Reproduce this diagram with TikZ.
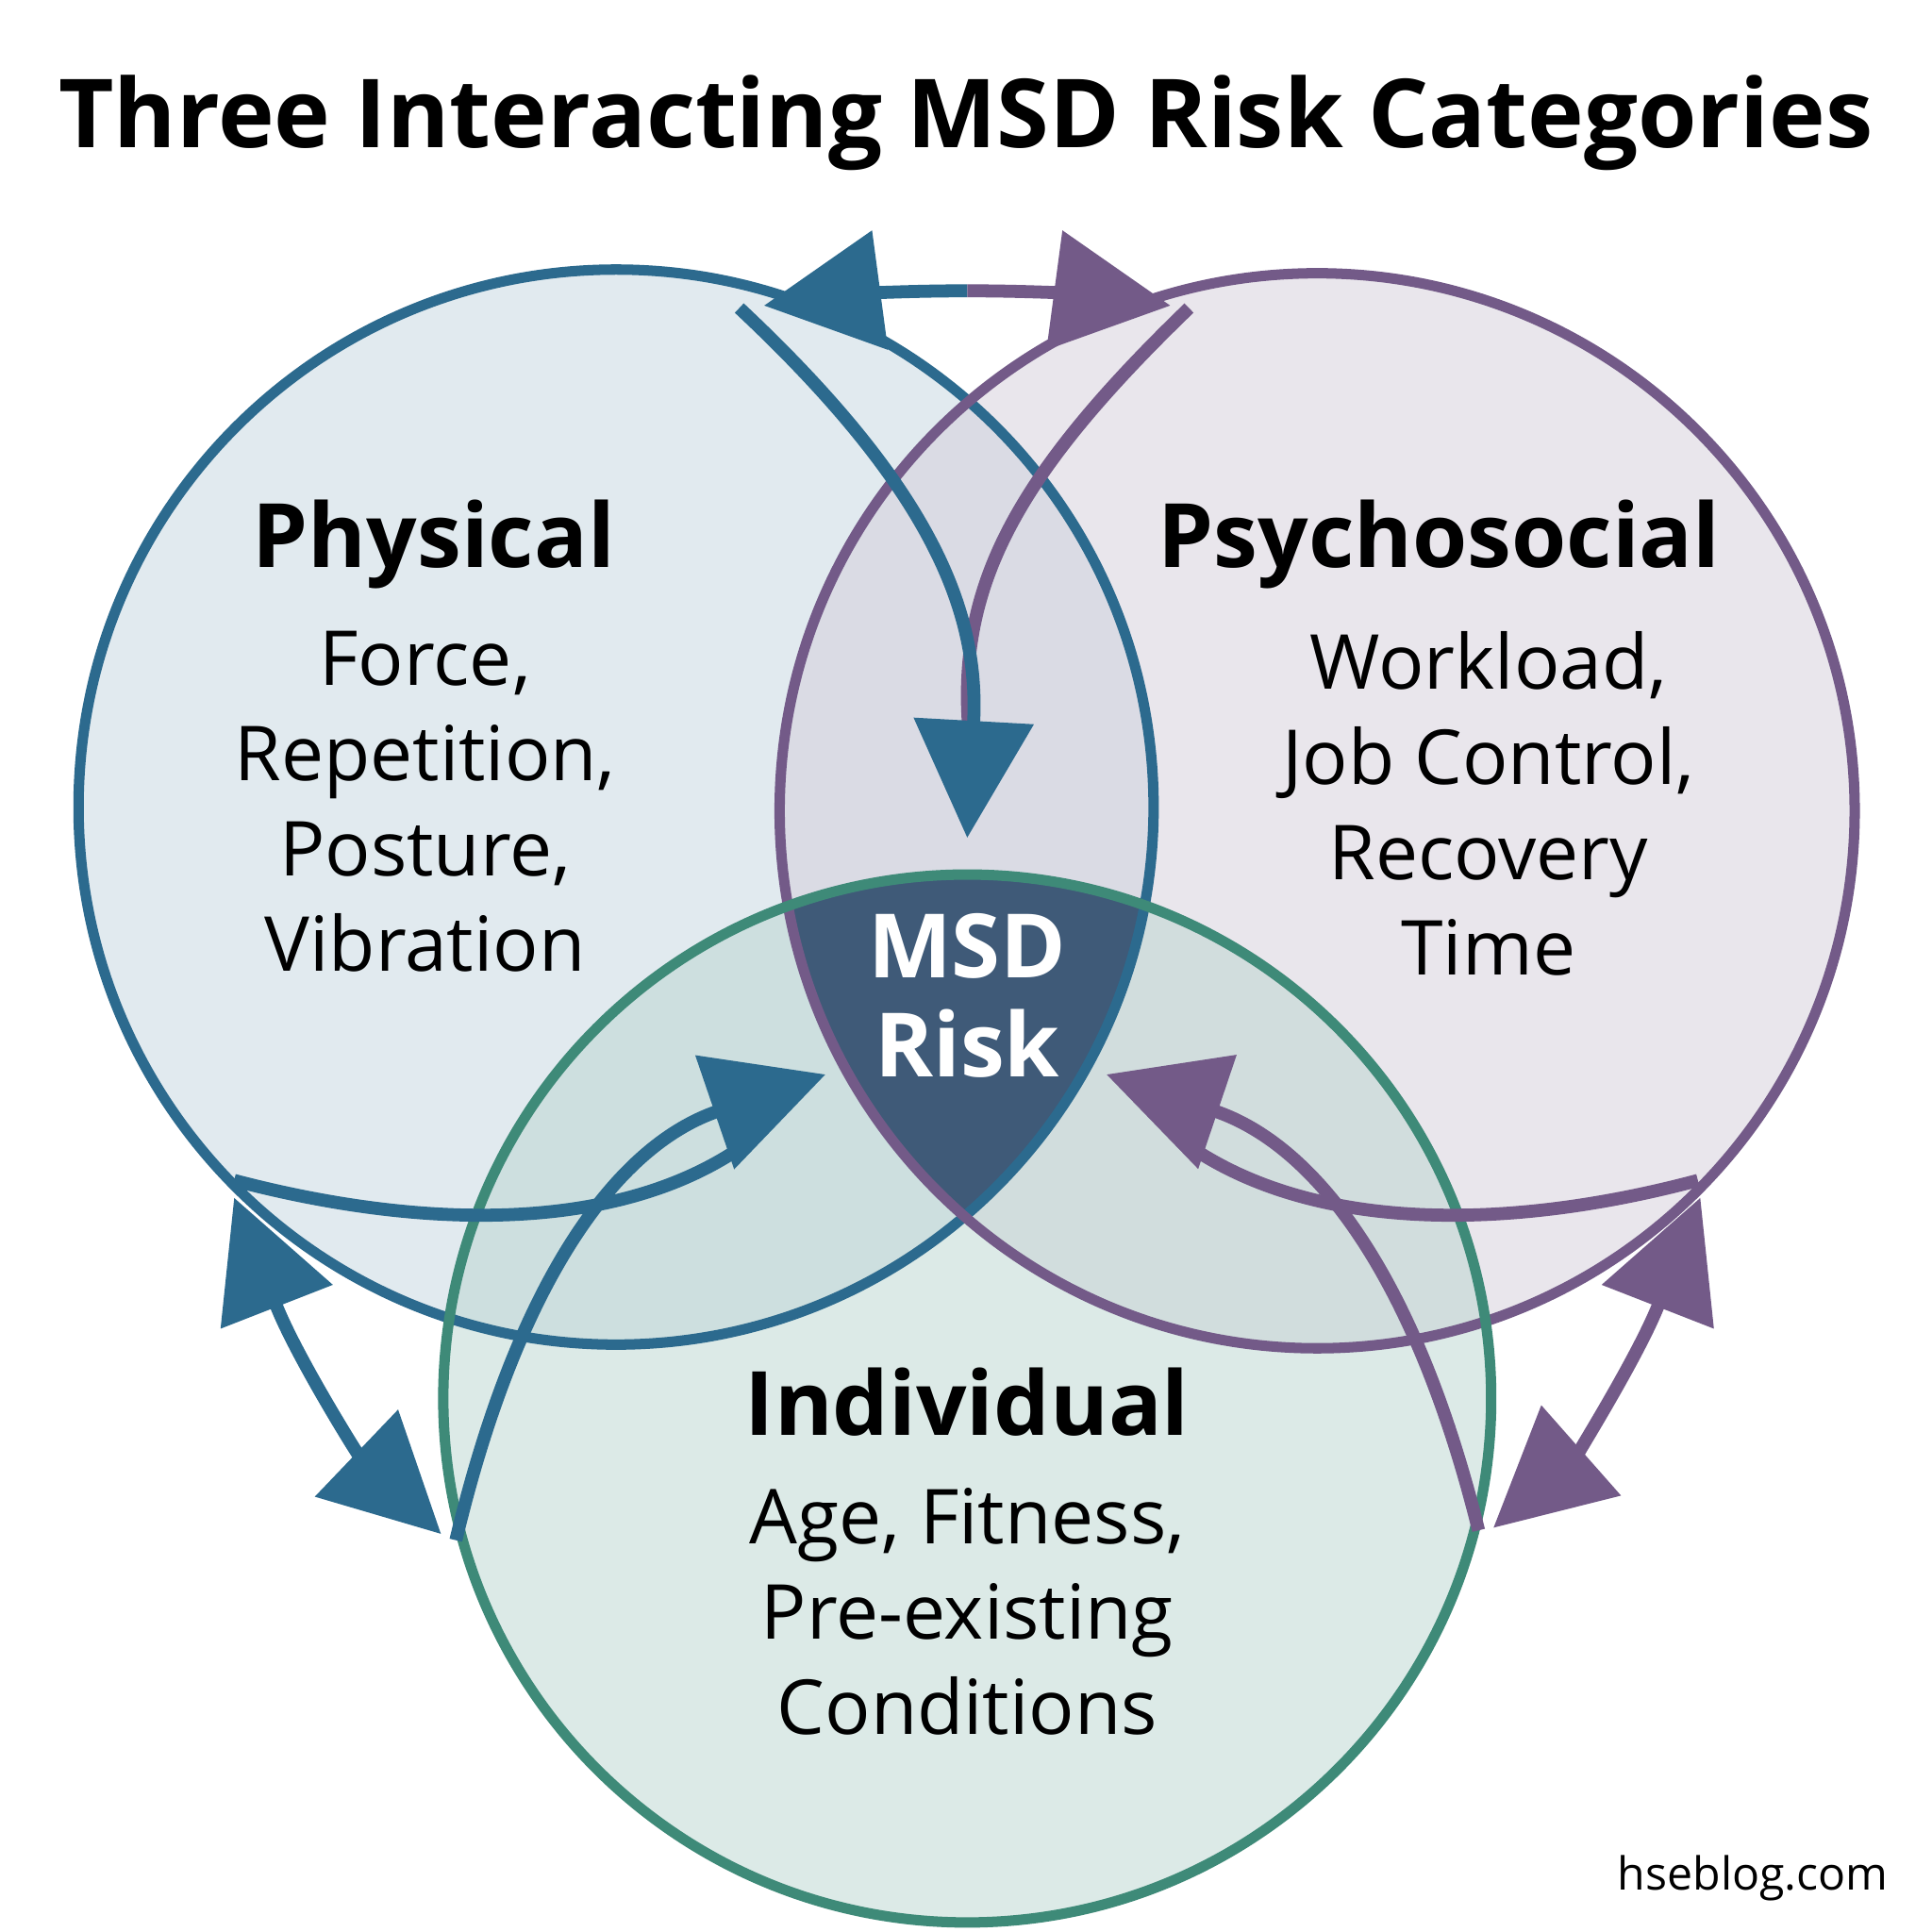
\documentclass[tikz,border=0pt]{standalone}
\usepackage{fontspec}
\setmainfont{Open Sans}
\usetikzlibrary{arrows.meta}
\definecolor{physblue}{HTML}{2C6A8E}
\definecolor{psypurple}{HTML}{735A88}
\definecolor{indgreen}{HTML}{3E8A78}
\definecolor{centerdark}{HTML}{3F5A78}
\tikzset{
  ring/.style={line width=2.4pt},
  flow/.style={line width=3pt, -{Triangle[length=0.95cm,width=0.95cm]}},
  twoway/.style={line width=3pt, {Triangle[length=0.95cm,width=0.95cm]}-{Triangle[length=0.95cm,width=0.95cm]}},
  feed/.style={line width=3pt},
  head/.style={font=\bfseries\fontsize{20.5}{23}\selectfont, align=center},
  body/.style={font=\fontsize{17.5}{22}\selectfont, align=center}
}
\begin{document}
\begin{tikzpicture}[x=0.01cm, y=-0.01cm]
    \useasboundingbox[fill=white] (0,0) rectangle (1568,1568);
    % circles
    \def\rad{4.36cm}
    \fill[physblue!25, opacity=0.55] (500,655) circle[radius=\rad];
    \fill[psypurple!30, opacity=0.5] (1069,658) circle[radius=\rad];
    \fill[indgreen!35, opacity=0.5] (785,1135) circle[radius=4.25cm];
    \begin{scope}
      \clip (500,655) circle[radius=\rad];
      \clip (1069,658) circle[radius=\rad];
      \fill[centerdark] (785,1135) circle[radius=4.25cm];
    \end{scope}
    \draw[ring, physblue] (500,655) circle[radius=\rad];
    \draw[ring, psypurple] (1069,658) circle[radius=\rad];
    \draw[ring, indgreen] (785,1135) circle[radius=4.25cm];
    % flows into centre
    \draw[feed, psypurple] (965,250) .. controls (820,390) and (775,480) .. (787,600);
    \draw[flow, physblue] (600,250) .. controls (760,400) and (795,500) .. (785,680);
    \draw[feed, physblue] (190,958) .. controls (350,1000) and (510,1000) .. (610,925);
    \draw[flow, physblue] (370,1250) .. controls (420,1040) and (500,930) .. (670,872);
    \draw[feed, psypurple] (1378,958) .. controls (1220,1000) and (1060,1000) .. (958,925);
    \draw[flow, psypurple] (1200,1242) .. controls (1150,1040) and (1070,930) .. (898,872);
    % two-way links
    \coordinate (topmid) at (785,236);
    \draw[line width=3pt, physblue, -{Triangle[length=0.95cm,width=0.95cm]}] (topmid) .. controls (720,236) and (680,240) .. (620,248);
    \draw[line width=3pt, psypurple, -{Triangle[length=0.95cm,width=0.95cm]}] (topmid) .. controls (850,236) and (890,240) .. (950,248);
    \draw[twoway, physblue] (190,972) .. controls (240,1100) and (290,1180) .. (358,1245);
    \draw[twoway, psypurple] (1380,972) .. controls (1330,1100) and (1280,1180) .. (1212,1240);
    % texts
    \node[font=\bfseries\fontsize{22}{25}\selectfont] (title) at (784,100) {Three Interacting MSD Risk Categories};
    \node[head] (phys) at (352,442) {Physical};
    \node[body, anchor=north] (physitems) at (345,500) {Force,\\Repetition,\\Posture,\\Vibration};
    \node[head] (psy) at (1168,442) {Psychosocial};
    \node[body, anchor=north] (psyitems) at (1208,500) {Workload,\\Job Control,\\Recovery\\Time};
    \node[head] (ind) at (785,1138) {Individual};
    \node[body, anchor=north] (inditems) at (785,1195) {Age, Fitness,\\Pre-existing\\Conditions};
    \node[head, text=white] (msd) at (785,808) {MSD\\Risk};
    \node[font=\fontsize{10.5}{12}\selectfont, anchor=south east] (site) at (1545,1555) {hseblog.com};
\end{tikzpicture}
\end{document}
